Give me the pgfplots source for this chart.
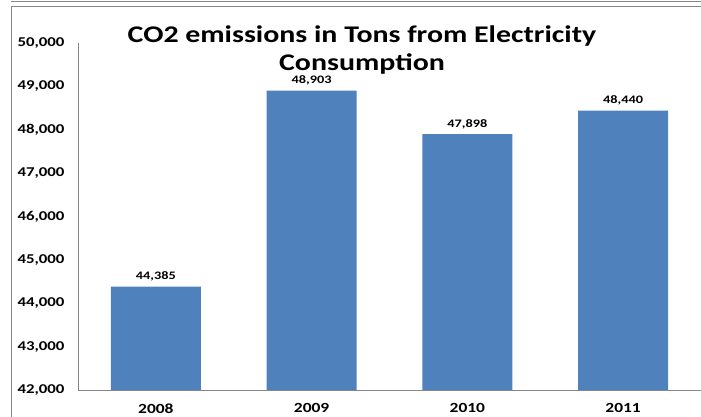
\documentclass[border=0pt]{standalone}
\usepackage{pgfplots}
\pgfplotsset{compat=1.18}
\usepackage{fontspec}
\setmainfont{Carlito}[FakeStretch=1.25]
\definecolor{barblue}{HTML}{4F81BD}
\definecolor{axgray}{HTML}{868686}
\begin{document}
\begin{tikzpicture}
\useasboundingbox (0,0) rectangle (701bp,417bp);
\fill[white] (0,0) rectangle (701bp,417bp);
\draw[axgray, line width=0.8bp] (11bp,-10bp) -- (11bp,411bp) -- (720bp,411bp);
\draw[axgray, line width=0.8bp] (11bp,416bp) -- (720bp,416bp);
\begin{axis}[
  at={(78bp,27bp)}, anchor=south west,
  scale only axis, width=623bp, height=347bp,
  xmin=-0.5, xmax=3.5, ymin=42000, ymax=50000,
  ytick={42000,43000,...,50000},
  xtick=data, xticklabels={2008,2009,2010,2011},
  axis x line=bottom, axis y line=left,
  axis line style={axgray, line width=0.8bp, -},
  major tick length=0pt,
  /pgf/number format/assume math mode=true,
  /pgf/number format/1000 sep={,},
  scaled y ticks=false,
  yticklabel style={font=\fontsize{13.5}{15}\selectfont\bfseries, xshift=-10bp},
  xticklabel style={font=\fontsize{14}{15}\selectfont\bfseries, yshift=-10bp},
  ybar, bar width=0.577,
  nodes near coords,
  every node near coord/.append style={font=\fontsize{11.5}{13}\selectfont\bfseries, yshift=2bp},
  clip=false,
]
\addplot[fill=barblue, draw=none] coordinates {(0,44385) (1,48903) (2,47898) (3,48440)};
\end{axis}
\node[anchor=base, font=\fontsize{24}{26}\selectfont\bfseries] at (362bp,374bp) {CO2 emissions in Tons from Electricity};
\node[anchor=base, font=\fontsize{24}{26}\selectfont\bfseries] at (362bp,346bp) {Consumption};
\end{tikzpicture}
\end{document}
